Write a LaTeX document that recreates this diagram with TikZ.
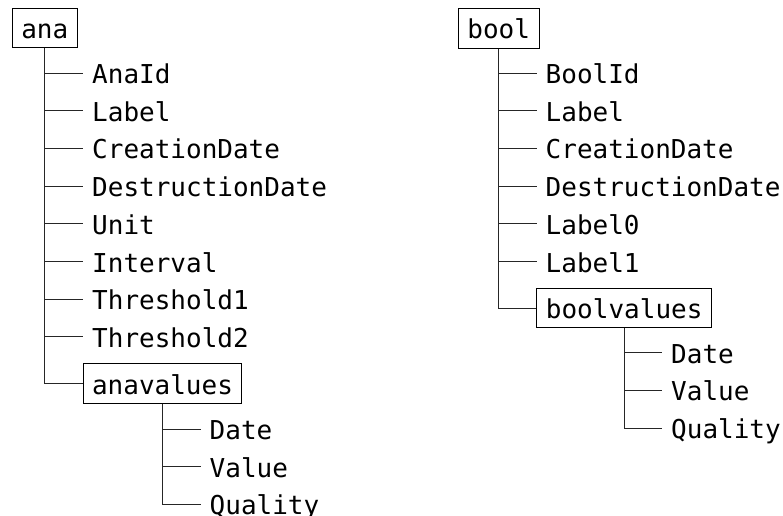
\documentclass[tikz,border=0pt]{standalone}
\usepackage{fontspec}
\setmonofont{DejaVu Sans Mono}
\usetikzlibrary{positioning}

\tikzset{
  tbl/.style={draw, line width=1pt, inner xsep=9pt, inner ysep=0pt, minimum height=39.4pt,
    text height=22pt, text depth=1pt, font=\ttfamily\fontsize{26}{30}\selectfont},
  fld/.style={anchor=west, inner xsep=9pt, inner ysep=0pt,
    text height=22pt, text depth=1pt, font=\ttfamily\fontsize{26}{30}\selectfont},
  branch/.style={line width=1pt, draw=black!85}
}

\begin{document}
\begin{tikzpicture}[x=1pt, y=-1pt]
  \useasboundingbox (0,0) rectangle (783,515);
  % ana table
  \node[tbl] (ana) at (44.8,28) {ana};
  \foreach \f [count=\i] in {AnaId,Label,CreationDate,DestructionDate,Unit,Interval,Threshold1,Threshold2}
    \node[fld] (ana\i) at (83,35.3+37.7*\i) {\f};
  \node[tbl] (anavalues) at (162.5,383.6) {anavalues};
  \foreach \f [count=\i] in {Date,Value,Quality}
    \node[fld] (anav\i) at (200.5,391.3+37.7*\i) {\f};
  \draw[branch] (ana.south) |- (anavalues.west);
  \foreach \i in {1,...,8}
    \draw[branch] (ana.south |- ana\i.west) -- (ana\i.west);
  \draw[branch] (anavalues.south) |- (anav3.west);
  \foreach \i in {1,2}
    \draw[branch] (anavalues.south |- anav\i.west) -- (anav\i.west);
  % bool table
  \node[tbl] (bool) at (498.7,28.3) {bool};
  \foreach \f [count=\i] in {BoolId,Label,CreationDate,DestructionDate,Label0,Label1}
    \node[fld] (bool\i) at (536.5,35.3+37.7*\i) {\f};
  \node[tbl] (boolvalues) at (624.2,308.2) {boolvalues};
  \foreach \f [count=\i] in {Date,Value,Quality}
    \node[fld] (boolv\i) at (662,315+37.7*\i) {\f};
  \draw[branch] (bool.south) |- (boolvalues.west);
  \foreach \i in {1,...,6}
    \draw[branch] (bool.south |- bool\i.west) -- (bool\i.west);
  \draw[branch] (boolvalues.south) |- (boolv3.west);
  \foreach \i in {1,2}
    \draw[branch] (boolvalues.south |- boolv\i.west) -- (boolv\i.west);
\end{tikzpicture}
\end{document}
